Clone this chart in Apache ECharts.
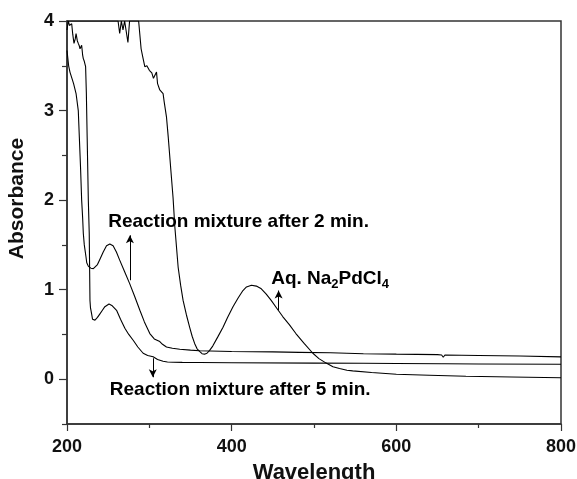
<!DOCTYPE html>
<html><head><meta charset="utf-8">
<script src="https://cdn.jsdelivr.net/npm/echarts@6/dist/echarts.min.js"></script>
<style>html,body{margin:0;padding:0;background:#fff}#c{width:577px;height:479px}</style>
</head><body><div id="c"></div>
<script>
// Aq. Na2PdCl4
const naX = [200,230,231,232,262,264,266,268,270,272,274,276,287,290,292,294.5,297,300,303,305,307,308.7,310,312.7,315,316.7,318,320.8,323,326,328.8,331,335,338,341,345,349,352,355,358,361,364,367,370,373,377,383,389.5,395,401.6,408,413.7,418,424,430,436,442,448,455,462,470,478,488,498.6,506,514.8,523,531,540,547,570,600,640,684.5,740,800];
const naY = [4.0,4.0,3.98,4.0,4.0,3.86,4.0,3.9,4.0,4.0,3.76,4.0,4.0,3.69,3.6,3.49,3.5,3.45,3.42,3.36,3.34,3.43,3.3,3.23,3.22,3.19,3.1,2.93,2.7,2.35,2.03,1.7,1.25,1.05,0.88,0.72,0.58,0.48,0.40,0.34,0.31,0.285,0.28,0.29,0.32,0.37,0.47,0.58,0.69,0.81,0.91,0.99,1.03,1.05,1.04,1.01,0.95,0.88,0.79,0.70,0.61,0.51,0.40,0.29,0.23,0.18,0.14,0.12,0.10,0.093,0.075,0.056,0.045,0.033,0.025,0.017];
// Reaction mixture after 2 min.
const m2X = [200,202,203.6,206,208,211,213.7,215,216.5,217.8,219,219.8,221,223,224,226,229,232,234,237,240,244,248,252,256,260,264,270,276,282,288.5,294,300.6,306,312.7,316,320.8,328,337,350,361,400,450,482,520,560,600,650,655,657,659,700,750,800];
const m2Y = [3.67,3.5,3.43,3.36,3.3,3.19,3.0,2.7,2.35,2.0,1.8,1.63,1.5,1.37,1.3,1.26,1.24,1.235,1.24,1.28,1.34,1.42,1.49,1.51,1.49,1.42,1.33,1.2,1.07,0.93,0.77,0.64,0.51,0.45,0.42,0.39,0.36,0.345,0.335,0.325,0.318,0.31,0.305,0.30,0.295,0.285,0.28,0.275,0.27,0.245,0.27,0.265,0.26,0.25];
// Reaction mixture after 5 min.
const m5X = [200,201.6,203,205.7,207,208.5,210,211,212.5,213.7,215,215.8,217.8,219,219.8,221,222.6,223.5,224.5,225.9,227,227.9,228.5,229.9,231,232,234,237,240,243,246,251,255,260.2,265,270.3,275,280.4,286,292.5,298,304.6,310,316.7,322,328.8,340,361,400,500,560,600,655,657,659,700,800];
const m5Y = [3.9,4.0,3.95,3.97,3.85,3.75,3.8,3.86,3.78,3.75,3.72,3.69,3.73,3.62,3.58,3.55,3.49,3.2,2.7,2.0,1.63,0.88,0.8,0.73,0.67,0.65,0.66,0.69,0.73,0.77,0.81,0.84,0.82,0.77,0.67,0.57,0.50,0.435,0.36,0.29,0.265,0.25,0.22,0.20,0.192,0.19,0.188,0.186,0.184,0.18,0.178,0.176,0.172,0.15,0.172,0.17,0.167];
const xTicks = [200,400,600,800];
const yTicks = [0,1,2,3,4];
const yMinorTicks = [-0.5,0.5,1.5,2.5,3.5];

const FONT = '"Liberation Sans", Arial, sans-serif';
const NARROW = '"Liberation Sans Narrow", "Arial Narrow", "Liberation Sans", Arial, sans-serif';
const zip = (xs, ys) => xs.map((x, i) => [x, ys[i]]);
const chart = echarts.init(document.getElementById('c'), null, {renderer: 'canvas'});
const lineSeries = (name, xs, ys, arrow) => ({
  name, type: 'line', data: zip(xs, ys), showSymbol: false, symbol: 'none',
  lineStyle: {color: '#000', width: 1.1}, clip: true, animation: false,
  markLine: {
    silent: true, animation: false, symbol: ['none', 'arrow'], symbolSize: [6, 8],
    lineStyle: {color: '#000', width: 1, type: 'solid'}, label: {show: false},
    data: [[{coord: arrow[0]}, {coord: arrow[1]}]]
  }
});
chart.setOption({
  animation: false,
  grid: {left: 67, right: 16, top: 21, bottom: 55, show: true, borderColor: '#333', borderWidth: 1.5,
    backgroundColor: 'transparent', outerBoundsMode: 'none', containLabel: false},
  xAxis: {
    type: 'value', min: 200, max: 800, interval: 200,
    name: 'Wavelength', nameLocation: 'middle', nameGap: 38,
    nameTextStyle: {fontFamily: FONT, fontWeight: 'bold', fontSize: 22, color: '#111'},
    axisLine: {onZero: false, lineStyle: {color: '#333', width: 1.5}},
    axisTick: {show: true, inside: false, length: 7, lineStyle: {color: '#333', width: 1.2}},
    minorTick: {show: true, splitNumber: 2, length: 4, lineStyle: {color: '#333', width: 1.2}},
    axisLabel: {fontFamily: FONT, fontWeight: 'bold', fontSize: 18, color: '#111', margin: 14, customValues: xTicks},
    splitLine: {show: false}
  },
  yAxis: [{
    type: 'value', min: -0.5, max: 4,
    name: 'Absorbance', nameLocation: 'middle', nameGap: 39, nameRotate: 90,
    nameTextStyle: {fontFamily: NARROW, fontWeight: 'bold', fontSize: 21, color: '#111', padding: [0, 0, 0, 48]},
    axisLine: {show: true, onZero: false, lineStyle: {color: '#333', width: 1.5}},
    axisTick: {show: true, inside: false, length: 8, customValues: yTicks, lineStyle: {color: '#333', width: 1.2}},
    axisLabel: {fontFamily: FONT, fontWeight: 'bold', fontSize: 18, color: '#111', margin: 13, customValues: yTicks},
    splitLine: {show: false}
  }, {
    type: 'value', min: -0.5, max: 4, position: 'left',
    axisLine: {show: false, onZero: false},
    axisTick: {show: true, inside: false, length: 5, customValues: yMinorTicks, lineStyle: {color: '#333', width: 1.2}},
    axisLabel: {show: false}, splitLine: {show: false}
  }],
  series: [
    lineSeries('Aq. Na2PdCl4', naX, naY, [[457, 0.77], [457, 0.99]]),
    lineSeries('Reaction mixture after 2 min.', m2X, m2Y, [[276.4, 1.105], [276.4, 1.607]]),
    lineSeries('Reaction mixture after 5 min.', m5X, m5Y, [[304.2, 0.234], [304.2, 0.022]])
  ]
});

const notes = [
  {t: '{b|Reaction mixture after 2 min.}', at: [250, 1.76]},
  {t: '{b|Reaction mixture after 5 min.}', at: [252, -0.12]},
  {t: '{b|Aq. Na}{s|2}{b|PdCl}{s|4}', at: [448, 1.117]}
];
const rich = {
  b: {fontFamily: FONT, fontWeight: 'bold', fontSize: 19, color: '#111', lineHeight: 24},
  s: {fontFamily: FONT, fontWeight: 'bold', fontSize: 13, color: '#111', lineHeight: 14, verticalAlign: 'bottom'}
};
chart.setOption({
  graphic: notes.map(n => {
    const p = chart.convertToPixel({gridIndex: 0}, n.at);
    return {type: 'text', x: p[0], y: p[1], silent: true,
      style: {text: n.t, rich, align: 'left', verticalAlign: 'middle'}};
  })
});
</script></body></html>
